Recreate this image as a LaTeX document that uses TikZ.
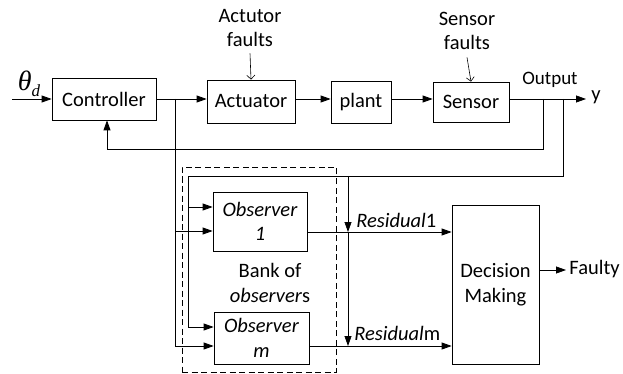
\documentclass[tikz,border=0pt]{standalone}
\usepackage{fontspec}
\setmainfont{Carlito}
\newfontfamily\symfont{Liberation Serif}
\usetikzlibrary{arrows.meta}
\begin{document}
\begin{tikzpicture}[x=1pt,y=-1pt,
  font=\fontsize{20.5}{24.5}\selectfont,
  line width=0.75pt,
  block/.style={draw, line width=0.75pt, inner sep=0pt, align=center},
  sig/.style={-{Triangle[length=10pt,width=7pt]}},
  fault/.style={-{Straight Barb[length=4pt,width=8pt]}, line width=0.6pt},
  lbl/.style={inner sep=0pt, align=center}]
\useasboundingbox (0,0) rectangle (623,374);

% main loop blocks
\node[block, minimum width=104pt, minimum height=42pt] (ctrl) at (104,99) {Controller};
\node[block, minimum width=88pt, minimum height=43pt] (act) at (251,101.5) {Actuator};
\node[block, minimum width=60pt, minimum height=42pt] (plant) at (361,102) {plant};
\node[block, minimum width=76pt, minimum height=40pt] (sens) at (471,102) {Sensor};

% observer bank and decision block
\node[block, minimum width=94pt, minimum height=59pt] (obs1) at (260,221.5) {\textit{Observer}\\\textit{1}};
\node[block, minimum width=95pt, minimum height=52pt] (obsm) at (261.5,338) {\textit{Observer}\\\textit{m}};
\node[block, minimum width=87pt, minimum height=159pt] (dec) at (495.5,284.5) {Decision\\Making};
\node[draw, dash pattern=on 6pt off 3.5pt, line width=0.75pt, inner sep=0pt, minimum width=154pt, minimum height=205pt] (bank) at (259,269.5) {};

% labels
\node[lbl] (theta) at (29,84) {\symfont\itshape{\fontsize{28}{28}\selectfont θ}\raisebox{-6pt}{\fontsize{17}{17}\selectfont d}};
\node[lbl] (afault) at (250,28) {Actutor\\faults};
\node[lbl] (sfault) at (467,31) {Sensor\\faults};
\node[lbl, font=\fontsize{19}{22}\selectfont] (outl) at (550,80) {Output};
\node[lbl, anchor=west] (yl) at (591,97) {y};
\node[lbl, anchor=west] (faulty) at (569,269) {Faulty};
\node[lbl] (bankl) at (270,283) {Bank of\\\textit{observer}s};
\node[lbl, anchor=west] (r1) at (356,220) {\textit{Residual}1};
\node[lbl, anchor=west] (rm) at (354,333) {\textit{Residual}m};

% junction points
\coordinate (in) at (12,99);
\coordinate (u) at (175,99);
\coordinate (fb) at (543,99);
\coordinate (yb) at (563,99);
\coordinate (yend) at (586,99);
\coordinate (ytop) at (188,176);
\coordinate (rtop) at (348,176);
\coordinate (fend) at (566,270);

% forward path
\draw[sig] (in) -- (in -| ctrl.west);
\draw[sig] (ctrl.east |- u) -- (u -| act.west);
\draw[sig] (act.east |- u) -- (u -| plant.west);
\draw[sig] (plant.east |- u) -- (u -| sens.west);
\draw[sig] (sens.east |- u) -- (yend);

% fault inputs
\draw[fault] (afault.south) ++(0,6) -- (act.north);
\draw[fault] (sfault.south) ++(0,7) -- (sens.north);

% feedback to the controller
\draw[sig] (fb) -- (543,149) -- (107,149) -- (ctrl.south -| 107,0);

% control signal to the observers
\draw (u) -- (175,346);
\draw[sig] (175,231) -- (obs1.west |- 0,231);
\draw[sig] (175,346) -- (obsm.west |- 0,346);

% measured output to the observers and residuals
\draw (yb) -- (yb |- ytop) -- (ytop) -- (188,327);
\draw[sig] (188,207) -- (obs1.west |- 0,207);
\draw[sig] (188,327) -- (obsm.west |- 0,327);
\draw[sig] (rtop) -- (348,232);
\draw[sig] (348,232) -- (348,346);

% residuals to the decision block
\draw[sig] (obs1.east |- 0,232) -- (dec.west |- 0,232);
\draw[sig] (obsm.east |- 0,346) -- (dec.west |- 0,346);
\draw[sig] (dec.east |- fend) -- (fend);
\end{tikzpicture}
\end{document}
